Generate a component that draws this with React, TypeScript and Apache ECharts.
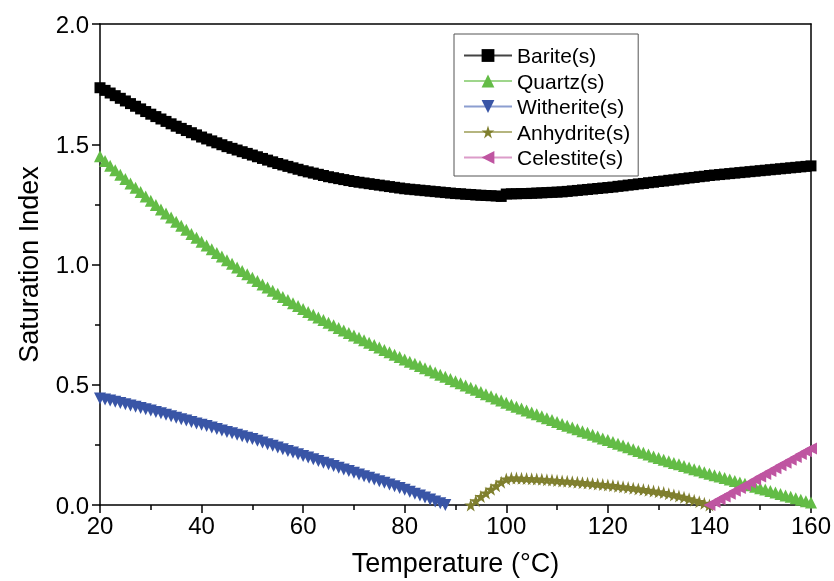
import React, { useEffect, useRef } from "react";
import * as echarts from "echarts";

// Temperature (°C) of first sample of each series; one sample per 1 °C
const BARITE_START = 20;
const QUARTZ_START = 20;
const WITHERITE_START = 20;
const ANHYDRITE_START = 93;
const CELESTITE_START = 140;

const bariteSI = [
  1.735, 1.724, 1.713, 1.702, 1.691, 1.68, 1.669, 1.658, 1.647, 1.636,
  1.625, 1.615, 1.605, 1.595, 1.585, 1.575, 1.566, 1.557, 1.548, 1.539,
  1.53, 1.522, 1.514, 1.506, 1.498, 1.49, 1.483, 1.476, 1.469, 1.462,
  1.455, 1.448, 1.441, 1.434, 1.427, 1.42, 1.414, 1.408, 1.402, 1.396,
  1.39, 1.385, 1.38, 1.375, 1.37, 1.365, 1.361, 1.357, 1.353, 1.349,
  1.345, 1.342, 1.339, 1.336, 1.333, 1.33, 1.327, 1.324, 1.321, 1.318,
  1.315, 1.313, 1.311, 1.309, 1.307, 1.305, 1.303, 1.301, 1.299, 1.297,
  1.295, 1.294, 1.292, 1.291, 1.289, 1.288, 1.287, 1.286, 1.285, 1.283,
  1.293, 1.294, 1.294, 1.295, 1.295, 1.296, 1.297, 1.298, 1.299, 1.3,
  1.301, 1.302, 1.304, 1.306, 1.308, 1.31, 1.312, 1.314, 1.316, 1.318,
  1.32, 1.322, 1.325, 1.327, 1.33, 1.332, 1.335, 1.337, 1.34, 1.342,
  1.345, 1.347, 1.35, 1.352, 1.355, 1.357, 1.36, 1.362, 1.365, 1.367,
  1.37, 1.372, 1.374, 1.376, 1.378, 1.38, 1.382, 1.384, 1.386, 1.388,
  1.39, 1.392, 1.394, 1.396, 1.398, 1.4, 1.402, 1.404, 1.406, 1.408, 1.41,
];

const quartzSI = [
  1.45, 1.43, 1.411, 1.392, 1.373, 1.355, 1.337, 1.319, 1.301, 1.283,
  1.265, 1.247, 1.229, 1.212, 1.195, 1.178, 1.161, 1.144, 1.127, 1.111,
  1.095, 1.079, 1.063, 1.048, 1.033, 1.018, 1.003, 0.988, 0.973, 0.959,
  0.945, 0.931, 0.917, 0.904, 0.891, 0.878, 0.865, 0.852, 0.839, 0.827,
  0.815, 0.803, 0.791, 0.78, 0.769, 0.758, 0.747, 0.736, 0.726, 0.715,
  0.705, 0.695, 0.685, 0.675, 0.665, 0.655, 0.645, 0.635, 0.625, 0.615,
  0.605, 0.596, 0.587, 0.578, 0.569, 0.56, 0.551, 0.542, 0.533, 0.524,
  0.515, 0.506, 0.497, 0.488, 0.479, 0.47, 0.461, 0.452, 0.443, 0.434,
  0.425, 0.417, 0.409, 0.401, 0.393, 0.385, 0.377, 0.369, 0.361, 0.353,
  0.345, 0.337, 0.33, 0.322, 0.315, 0.307, 0.3, 0.292, 0.285, 0.277,
  0.27, 0.262, 0.255, 0.247, 0.24, 0.232, 0.225, 0.217, 0.21, 0.202,
  0.195, 0.188, 0.182, 0.175, 0.169, 0.162, 0.156, 0.149, 0.143, 0.136,
  0.13, 0.124, 0.118, 0.112, 0.106, 0.1, 0.094, 0.088, 0.082, 0.076,
  0.07, 0.064, 0.058, 0.052, 0.046, 0.04, 0.034, 0.028, 0.022, 0.016, 0.01,
];

const witheriteSI = [
  0.443, 0.439, 0.434, 0.429, 0.424, 0.419, 0.414, 0.409, 0.403, 0.398,
  0.393, 0.387, 0.381, 0.375, 0.369, 0.363, 0.357, 0.351, 0.345, 0.339,
  0.334, 0.328, 0.322, 0.316, 0.31, 0.304, 0.298, 0.292, 0.286, 0.28,
  0.274, 0.267, 0.26, 0.253, 0.246, 0.239, 0.232, 0.225, 0.218, 0.211,
  0.204, 0.197, 0.19, 0.183, 0.176, 0.169, 0.162, 0.155, 0.148, 0.141,
  0.134, 0.127, 0.12, 0.113, 0.106, 0.099, 0.092, 0.085, 0.078, 0.071,
  0.063, 0.055, 0.047, 0.039, 0.031, 0.023, 0.015, 0.007, 0.0,
];

const anhydriteSI = [
  0.0, 0.018, 0.035, 0.05, 0.065, 0.08, 0.095, 0.108, 0.112, 0.112,
  0.111, 0.11, 0.109, 0.108, 0.107, 0.105, 0.104, 0.102, 0.1, 0.099,
  0.097, 0.095, 0.093, 0.091, 0.089, 0.087, 0.085, 0.083, 0.081, 0.078,
  0.076, 0.073, 0.07, 0.067, 0.064, 0.061, 0.058, 0.055, 0.052, 0.047,
  0.042, 0.037, 0.032, 0.026, 0.02, 0.014, 0.007, 0.0,
];

const celestiteSI = [
  0.0, 0.012, 0.024, 0.035, 0.047, 0.059, 0.071, 0.082, 0.094, 0.106,
  0.118, 0.129, 0.141, 0.153, 0.165, 0.176, 0.188, 0.2, 0.212, 0.224, 0.235,
];

const seriesNames = ["Barite(s)", "Quartz(s)", "Witherite(s)", "Anhydrite(s)", "Celestite(s)"];

const FONT = "'Liberation Sans', Arial, Helvetica, sans-serif";
const STAR =
  "path://M50,0 L61.2,34.5 L97.6,34.5 L68.2,55.9 L79.4,90.5 L50,69.1 L20.6,90.5 L31.8,55.9 L2.4,34.5 L38.8,34.5 Z";

const toPairs = (start: number, vals: number[]) => vals.map((v, i) => [start + i, v]);

export default function App() {
  const ref = useRef<HTMLDivElement>(null);

  useEffect(() => {
    if (!ref.current) return;
    const chart = echarts.init(ref.current, undefined, { renderer: "svg" });

    const axisLineStyle = { color: "#000", width: 1.5 };

    const mk = (
      name: string,
      data: number[][],
      color: string,
      lineColor: string,
      symbol: string,
      size: number,
      rotate = 0
    ) => ({
      name,
      type: "line",
      data,
      symbol,
      symbolSize: size,
      symbolRotate: rotate,
      showAllSymbol: true,
      clip: true,
      itemStyle: { color, borderWidth: 0 },
      lineStyle: { color: lineColor, width: 1 },
      emphasis: { disabled: true },
    });

    chart.setOption({
      animation: false,
      grid: { left: 100, right: 20, top: 24, bottom: 69, containLabel: false },
      legend: {
        orient: "vertical",
        left: 454,
        top: 34,
        padding: [11, 8, 8, 9],
        itemGap: 4.5,
        itemWidth: 48,
        itemHeight: 16,
        borderColor: "#555",
        borderWidth: 1,
        backgroundColor: "#fff",
        textStyle: { fontSize: 21, color: "#000", fontFamily: FONT },
        data: seriesNames,
      },
      xAxis: [
        {
          type: "value",
          min: 20,
          max: 160,
          interval: 20,
          position: "bottom",
          axisLine: { show: true, onZero: false, lineStyle: axisLineStyle },
          axisTick: { show: true, inside: false, length: 8, lineStyle: axisLineStyle },
          minorTick: { show: true, splitNumber: 2, length: 5, lineStyle: axisLineStyle },
          splitLine: { show: false },
          axisLabel: { fontSize: 24, color: "#000", margin: 8, fontFamily: FONT },
          name: "Temperature (°C)",
          nameLocation: "middle",
          nameGap: 44,
          nameTextStyle: { fontSize: 27, color: "#000", fontFamily: FONT },
        },
        {
          type: "value",
          min: 20,
          max: 160,
          position: "top",
          axisLine: { show: true, onZero: false, lineStyle: axisLineStyle },
          axisTick: { show: false },
          axisLabel: { show: false },
          splitLine: { show: false },
        },
      ],
      yAxis: [
        {
          type: "value",
          min: 0,
          max: 2,
          interval: 0.5,
          position: "left",
          axisLine: { show: true, onZero: false, lineStyle: axisLineStyle },
          axisTick: { show: true, inside: false, length: 8, lineStyle: axisLineStyle },
          minorTick: { show: true, splitNumber: 2, length: 5, lineStyle: axisLineStyle },
          splitLine: { show: false },
          axisLabel: {
            fontSize: 24,
            color: "#000",
            margin: 11,
            fontFamily: FONT,
            formatter: (v: number) => v.toFixed(1),
          },
          name: "Saturation Index",
          nameLocation: "middle",
          nameGap: 58,
          nameRotate: 90,
          nameTextStyle: { fontSize: 27, color: "#000", fontFamily: FONT },
        },
        {
          type: "value",
          min: 0,
          max: 2,
          position: "right",
          axisLine: { show: true, onZero: false, lineStyle: axisLineStyle },
          axisTick: { show: false },
          axisLabel: { show: false },
          splitLine: { show: false },
        },
      ],
      series: [
        mk(seriesNames[0], toPairs(BARITE_START, bariteSI), "#000000", "#444444", "rect", 11),
        mk(seriesNames[1], toPairs(QUARTZ_START, quartzSI), "#63bc46", "#9fd68c", "triangle", 12),
        mk(seriesNames[2], toPairs(WITHERITE_START, witheriteSI), "#3955a6", "#8c9ed0", "triangle", 12, 180),
        mk(seriesNames[3], toPairs(ANHYDRITE_START, anhydriteSI), "#7f7f2e", "#b5b57f", STAR, 13),
        mk(seriesNames[4], toPairs(CELESTITE_START, celestiteSI), "#bf55a1", "#dc9cc9", "triangle", 12, 90),
      ],
    });

    return () => chart.dispose();
  }, []);

  return (
    <div
      ref={ref}
      style={{ position: "fixed", left: 0, top: 0, width: 834, height: 581 }}
    />
  );
}
